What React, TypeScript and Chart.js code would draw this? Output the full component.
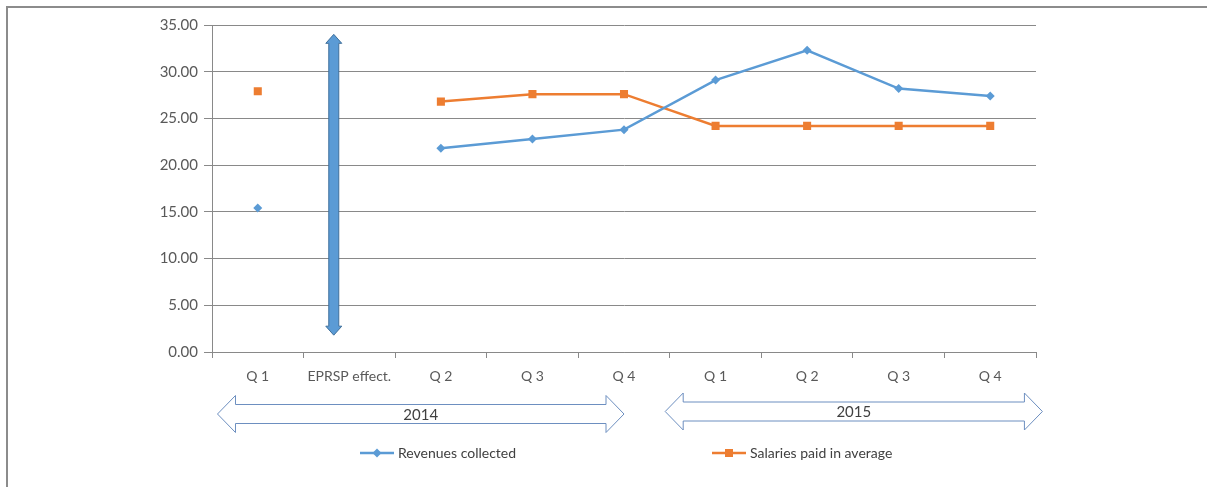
import React, { useEffect, useRef } from "react";
import { Chart, registerables } from "chart.js";

Chart.register(...registerables);

// ---- data ----
const categories = ["Q 1", "EPRSP effect.", "Q 2", "Q 3", "Q 4", "Q 1", "Q 2", "Q 3", "Q 4"];
const revenues: (number | null)[] = [15.4, null, 21.8, 22.8, 23.8, 29.1, 32.3, 28.2, 27.4];
const salaries: (number | null)[] = [27.9, null, 26.8, 27.6, 27.6, 24.2, 24.2, 24.2, 24.2];
const seriesNames = ["Revenues collected", "Salaries paid in average"];
const yMin = 0;
const yMax = 35;
const yStep = 5;
// EPRSP effect arrow (category position, value range)
const eprspArrow = { at: 0.83, from: 1.8, to: 34 };
// Year spans in category units
const yearSpans = [
  { label: "2014", from: -0.44, to: 4.0 },
  { label: "2015", from: 4.45, to: 8.57 },
];

const BLUE = "#5b9bd5";
const ORANGE = "#ed7d31";
const GRID = "#898989";
const TEXT = "#595959";
const FONT = "Lato, 'Open Sans', sans-serif";

const decorPlugin = {
  id: "decor",
  beforeDraw(chart: any) {
    const { ctx, width, height } = chart;
    ctx.save();
    ctx.fillStyle = "#ffffff";
    ctx.fillRect(0, 0, width, height);
    ctx.fillStyle = "#8c8c8c";
    ctx.fillRect(6, 6, 2, height - 6);
    ctx.fillRect(6, 6, width - 6, 2);
    ctx.restore();
  },
  afterDatasetsDraw(chart: any) {
    const { ctx } = chart;
    const xs = chart.scales.x;
    const ys = chart.scales.y;
    ctx.save();
    // EPRSP double arrow
    const ax = xs.getPixelForValue(eprspArrow.at);
    const top = ys.getPixelForValue(eprspArrow.to);
    const bot = ys.getPixelForValue(eprspArrow.from);
    const sw = 5; // half shaft
    const hw = 8; // half head
    const hl = 9; // head length
    ctx.beginPath();
    ctx.moveTo(ax, top);
    ctx.lineTo(ax + hw, top + hl);
    ctx.lineTo(ax + sw, top + hl);
    ctx.lineTo(ax + sw, bot - hl);
    ctx.lineTo(ax + hw, bot - hl);
    ctx.lineTo(ax, bot);
    ctx.lineTo(ax - hw, bot - hl);
    ctx.lineTo(ax - sw, bot - hl);
    ctx.lineTo(ax - sw, top + hl);
    ctx.lineTo(ax - hw, top + hl);
    ctx.closePath();
    ctx.fillStyle = BLUE;
    ctx.fill();
    ctx.strokeStyle = "#41719c";
    ctx.lineWidth = 1;
    ctx.stroke();
    ctx.restore();
  },
  afterDraw(chart: any) {
    const { ctx } = chart;
    const xs = chart.scales.x;
    const area = chart.chartArea;
    ctx.save();
    // year arrows
    yearSpans.forEach((s, i) => {
      const x1 = xs.getPixelForValue(s.from);
      const x2 = xs.getPixelForValue(s.to);
      const cy = area.bottom + (i === 0 ? 62 : 59.5);
      const outer = 18.5;
      const inner = 9.5;
      const hl = 18;
      ctx.beginPath();
      ctx.moveTo(x1, cy);
      ctx.lineTo(x1 + hl, cy - outer);
      ctx.lineTo(x1 + hl, cy - inner);
      ctx.lineTo(x2 - hl, cy - inner);
      ctx.lineTo(x2 - hl, cy - outer);
      ctx.lineTo(x2, cy);
      ctx.lineTo(x2 - hl, cy + outer);
      ctx.lineTo(x2 - hl, cy + inner);
      ctx.lineTo(x1 + hl, cy + inner);
      ctx.lineTo(x1 + hl, cy + outer);
      ctx.closePath();
      ctx.fillStyle = "#ffffff";
      ctx.fill();
      ctx.strokeStyle = "#6d8fc0";
      ctx.lineWidth = 1;
      ctx.stroke();
      ctx.fillStyle = "#404040";
      ctx.font = `15px ${FONT}`;
      ctx.textAlign = "center";
      ctx.textBaseline = "middle";
      ctx.fillText(s.label, (x1 + x2) / 2, cy + 1);
    });
    // legend
    const ly = area.bottom + 101;
    const items = [
      { x: 360, color: BLUE, style: "diamond", text: seriesNames[0] },
      { x: 712, color: ORANGE, style: "square", text: seriesNames[1] },
    ];
    items.forEach((it) => {
      ctx.strokeStyle = it.color;
      ctx.lineWidth = 2.5;
      ctx.beginPath();
      ctx.moveTo(it.x, ly);
      ctx.lineTo(it.x + 34, ly);
      ctx.stroke();
      ctx.fillStyle = it.color;
      const mx = it.x + 17;
      if (it.style === "diamond") {
        ctx.beginPath();
        ctx.moveTo(mx, ly - 4.5);
        ctx.lineTo(mx + 4.5, ly);
        ctx.lineTo(mx, ly + 4.5);
        ctx.lineTo(mx - 4.5, ly);
        ctx.closePath();
        ctx.fill();
      } else {
        ctx.fillRect(mx - 4, ly - 4, 8, 8);
      }
      ctx.fillStyle = "#404040";
      ctx.font = `14px ${FONT}`;
      ctx.textAlign = "left";
      ctx.textBaseline = "middle";
      ctx.fillText(it.text, it.x + 38, ly);
    });
    ctx.restore();
  },
};

export default function App() {
  const ref = useRef<HTMLCanvasElement>(null);
  useEffect(() => {
    document.body.style.margin = "0";
    const canvas = ref.current!;
    const chart = new Chart(canvas, {
      type: "line",
      data: {
        labels: categories,
        datasets: [
          {
            label: seriesNames[0],
            data: revenues,
            borderColor: BLUE,
            backgroundColor: BLUE,
            borderWidth: 2.5,
            pointStyle: "rectRot",
            pointRadius: 4.5,
            pointHoverRadius: 4.5,
            pointBorderWidth: 0,
            spanGaps: false,
            tension: 0,
          },
          {
            label: seriesNames[1],
            data: salaries,
            borderColor: ORANGE,
            backgroundColor: ORANGE,
            borderWidth: 2.5,
            pointStyle: "rect",
            pointRadius: 5.7,
            pointHoverRadius: 5.7,
            pointBorderWidth: 0,
            spanGaps: false,
            tension: 0,
          },
        ],
      },
      options: {
        responsive: false,
        animation: false,
        devicePixelRatio: 1,
        layout: { padding: { left: 150, right: 171, top: 25, bottom: 100 } },
        plugins: { legend: { display: false }, tooltip: { enabled: false } },
        scales: {
          x: {
            type: "category",
            offset: true,
            grid: { display: true, drawOnChartArea: false, offset: true, tickLength: 6, color: GRID },
            border: { display: true, color: GRID, width: 1 },
            ticks: { color: TEXT, font: { family: FONT, size: 14 }, padding: 10, maxRotation: 0, autoSkip: false },
            afterFit: (s: any) => { s.height = 35; },
          },
          y: {
            min: yMin,
            max: yMax,
            ticks: {
              stepSize: yStep,
              color: TEXT,
              font: { family: FONT, size: 15 },
              padding: 6,
              callback: (v: any) => Number(v).toFixed(2),
            },
            grid: { color: GRID, tickLength: 8 },
            border: { display: true, color: GRID, width: 1 },
            afterFit: (s: any) => { s.width = 62; },
          },
        },
      },
      plugins: [decorPlugin],
    });
    return () => chart.destroy();
  }, []);
  return (
    <div style={{ width: 1207, height: 487 }}>
      <canvas ref={ref} width={1207} height={487} style={{ display: "block" }} />
    </div>
  );
}
